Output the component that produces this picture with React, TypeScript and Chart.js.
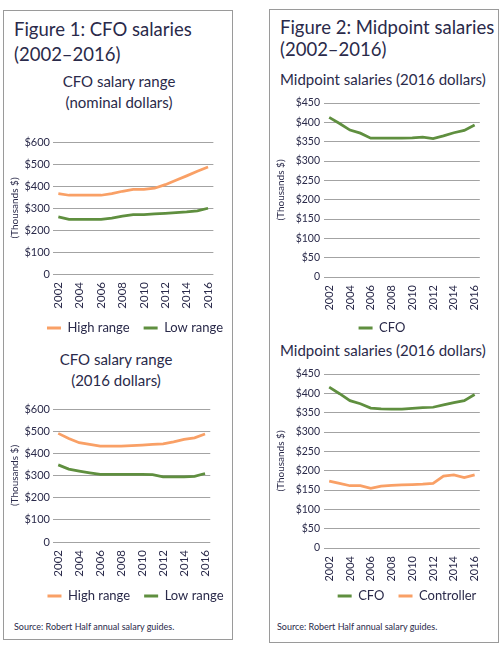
import React, { useEffect, useRef } from 'react';
import { Chart, registerables } from 'chart.js';

Chart.register(...registerables);

// ---------- data ----------
const years = ['2002', '2003', '2004', '2005', '2006', '2007', '2008', '2009', '2010', '2011', '2012', '2013', '2014', '2015', '2016'];
const nominalHigh = [365, 358, 358, 358, 358, 365, 376, 385, 385, 390, 406, 426, 446, 467, 486];
const nominalLow = [260, 248, 248, 248, 248, 254, 263, 270, 270, 273, 276, 279, 282, 287, 299];
const realHigh = [490, 467, 448, 440, 433, 433, 433, 435, 437, 440, 443, 452, 463, 470, 487];
const realLow = [348, 329, 320, 312, 305, 305, 305, 305, 305, 304, 294, 294, 294, 296, 309];
const midpointCFO = [413, 397, 380, 372, 359, 359, 359, 359, 360, 362, 358, 365, 373, 379, 393];
const midpointCFO2 = [416, 399, 381, 373, 362, 360, 359, 359, 361, 363, 364, 370, 376, 381, 397];
const midpointController = [173, 167, 161, 161, 154, 160, 162, 163, 164, 165, 167, 186, 189, 182, 189];

const TEXT = '#2a2a4a';
const GRID = '#a3a3a3';
const ORANGE = '#f9a066';
const GREEN = '#5f8f3f';
const FONT = 'Lato, "Open Sans", sans-serif';

// places the legend row at a given centre (canvas coordinates)
const legendShift = {
  id: 'legendShift',
  afterLayout(chart: any, _args: any, opts: any) {
    const lg = chart.legend;
    if (!lg || opts == null) return;
    if (opts.centerX != null) {
      const w = lg.right - lg.left;
      lg.left = opts.centerX - w / 2;
      lg.right = opts.centerX + w / 2;
    }
    if (opts.top != null) {
      const h = lg.bottom - lg.top;
      lg.top = opts.top;
      lg.bottom = opts.top + h;
    }
  },
};

type Series = { label: string; data: number[]; color: string };
type Props = {
  left: number;
  top: number;
  width: number;
  height: number;
  yAxisWidth: number;
  padTop: number;
  padRight: number;
  xAxisHeight: number;
  yMax: number;
  yStep: number;
  yTickSize: number;
  yTickPad: number;
  xTickSize: number;
  legendCenterX: number;
  legendTop: number;
  series: Series[];
};

function LineChart(p: Props) {
  const ref = useRef<HTMLCanvasElement>(null);
  useEffect(() => {
    if (!ref.current) return;
    const chart = new Chart(ref.current, {
      type: 'line',
      data: {
        labels: years,
        datasets: p.series.map((s) => ({
          label: s.label,
          data: s.data,
          borderColor: s.color,
          backgroundColor: s.color,
          borderWidth: 2.75,
          pointRadius: 0,
          pointHoverRadius: 0,
          tension: 0,
          fill: false,
        })),
      },
      options: {
        animation: false,
        responsive: false,
        events: [],
        layout: { padding: { top: p.padTop, right: p.padRight, left: 0, bottom: 0 } },
        plugins: {
          legend: {
            position: 'bottom',
            labels: {
              boxWidth: 14,
              boxHeight: 3,
              padding: 14,
              color: TEXT,
              font: { family: FONT, size: 13 },
              generateLabels: (c: any) =>
                (Chart.defaults.plugins.legend.labels as any)
                  .generateLabels(c)
                  .map((l: any) => ({ ...l, lineWidth: 0 })),
            },
          },
          tooltip: { enabled: false },
          legendShift: { centerX: p.legendCenterX, top: p.legendTop },
        } as any,
        scales: {
          x: {
            type: 'category',
            offset: true,
            grid: { display: false, drawTicks: false },
            border: { display: false },
            ticks: {
              autoSkip: false,
              maxRotation: 90,
              minRotation: 90,
              padding: 8,
              color: TEXT,
              font: { family: FONT, size: p.xTickSize },
              callback: (_v: any, index: number) => (Number(years[index]) % 2 === 0 ? years[index] : ''),
            },
            afterFit: (s: any) => {
              s.height = p.xAxisHeight;
            },
          },
          y: {
            min: 0,
            max: p.yMax,
            ticks: {
              stepSize: p.yStep,
              padding: p.yTickPad,
              color: TEXT,
              font: { family: FONT, size: p.yTickSize },
              callback: (v: any) => (v === 0 ? '0' : '$' + v),
            },
            grid: { color: GRID, drawTicks: false, lineWidth: 1 },
            border: { display: false },
            title: {
              display: true,
              text: '(Thousands $)',
              color: TEXT,
              font: { family: FONT, size: 10 },
              padding: { top: 5, bottom: 0 },
            },
            afterFit: (s: any) => {
              s.width = p.yAxisWidth;
            },
          },
        },
      },
      plugins: [legendShift as any],
    });
    return () => chart.destroy();
  }, []);
  return (
    <canvas
      ref={ref}
      width={p.width}
      height={p.height}
      style={{ position: 'absolute', left: p.left, top: p.top, width: p.width, height: p.height }}
    />
  );
}

const txt = (extra: React.CSSProperties): React.CSSProperties => ({
  position: 'absolute',
  fontFamily: FONT,
  color: TEXT,
  whiteSpace: 'nowrap',
  margin: 0,
  ...extra,
});

export default function App() {
  return (
    <div style={{ position: 'absolute', left: 0, top: 0, width: 504, height: 657, background: '#fff', overflow: 'hidden' }}>
      {/* panels */}
      <div style={{ position: 'absolute', left: 3, top: 10, width: 230, height: 630, border: '1px solid #9a9a9a', boxSizing: 'border-box' }} />
      <div style={{ position: 'absolute', left: 269, top: 9, width: 230, height: 634, border: '1px solid #9a9a9a', boxSizing: 'border-box' }} />

      {/* left panel texts */}
      <div style={txt({ left: 14, top: 17, fontSize: 18.5, lineHeight: '25px' })}>
        Figure 1: CFO salaries
        <br />
        (2002–2016)
      </div>
      <div style={txt({ left: 4, width: 230, top: 71, fontSize: 15, lineHeight: '21px', textAlign: 'center' })}>
        CFO salary range
        <br />
        (nominal dollars)
      </div>
      <div style={txt({ left: 1, width: 230, top: 349, fontSize: 15, lineHeight: '21px', textAlign: 'center' })}>
        CFO salary range
        <br />
        (2016 dollars)
      </div>
      <div style={txt({ left: 14, top: 622, fontSize: 9, lineHeight: '9px' })}>Source: Robert Half annual salary guides.</div>

      {/* right panel texts */}
      <div style={txt({ left: 280, top: 17, fontSize: 18.5, lineHeight: '21.5px' })}>
        Figure 2: Midpoint salaries
        <br />
        (2002–2016)
      </div>
      <div style={txt({ left: 280, top: 70, fontSize: 15, lineHeight: '18px' })}>Midpoint salaries (2016 dollars)</div>
      <div style={txt({ left: 280, top: 341, fontSize: 15, lineHeight: '18px' })}>Midpoint salaries (2016 dollars)</div>
      <div style={txt({ left: 277, top: 622, fontSize: 9, lineHeight: '9px' })}>Source: Robert Half annual salary guides.</div>

      {/* charts */}
      <LineChart
        left={4}
        top={129}
        width={226}
        height={220}
        yAxisWidth={49}
        padTop={13}
        padRight={5}
        xAxisHeight={38}
        yMax={600}
        yStep={100}
        yTickSize={11}
        yTickPad={3}
        xTickSize={11.5}
        legendCenterX={131}
        legendTop={178.5}
        series={[
          { label: 'High range', data: nominalHigh, color: ORANGE },
          { label: 'Low range', data: nominalLow, color: GREEN },
        ]}
      />
      <LineChart
        left={4}
        top={396}
        width={223}
        height={221}
        yAxisWidth={49}
        padTop={13}
        padRight={5}
        xAxisHeight={38}
        yMax={600}
        yStep={100}
        yTickSize={11}
        yTickPad={3}
        xTickSize={11.5}
        legendCenterX={131.5}
        legendTop={179.5}
        series={[
          { label: 'High range', data: realHigh, color: ORANGE },
          { label: 'Low range', data: realLow, color: GREEN },
        ]}
      />
      <LineChart
        left={270}
        top={90}
        width={226}
        height={262}
        yAxisWidth={54}
        padTop={13}
        padRight={5}
        xAxisHeight={38}
        yMax={450}
        yStep={50}
        yTickSize={10.5}
        yTickPad={4}
        xTickSize={11}
        legendCenterX={112}
        legendTop={217.5}
        series={[{ label: 'CFO', data: midpointCFO, color: GREEN }]}
      />
      <LineChart
        left={270}
        top={361}
        width={226}
        height={262}
        yAxisWidth={54}
        padTop={13}
        padRight={5}
        xAxisHeight={38}
        yMax={450}
        yStep={50}
        yTickSize={10.5}
        yTickPad={4}
        xTickSize={11}
        legendCenterX={137}
        legendTop={214.5}
        series={[
          { label: 'CFO', data: midpointCFO2, color: GREEN },
          { label: 'Controller', data: midpointController, color: ORANGE },
        ]}
      />
    </div>
  );
}
